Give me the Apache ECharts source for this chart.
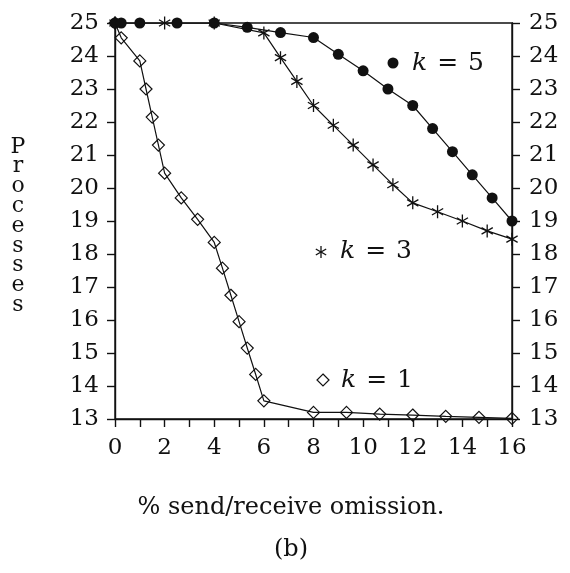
<!DOCTYPE html>
<html>
<head>
<meta charset="utf-8">
<script src="https://cdn.jsdelivr.net/npm/echarts@6/dist/echarts.min.js"></script>
<style>html,body{margin:0;padding:0;background:#fff}#c{width:570px;height:573px}</style>
</head>
<body>
<div id="c"></div>
<script>
// ---- data ----
const k5X = [0, 0.25, 1, 2.5, 4, 5.33, 6.67, 8, 9, 10, 11, 12, 12.8, 13.6, 14.4, 15.2, 16];
const k5Y = [25, 25, 25, 25, 25, 24.87, 24.71, 24.56, 24.05, 23.55, 23.0, 22.5, 21.8, 21.1, 20.4, 19.7, 19.0];
const k3X = [0, 2, 4, 6, 6.67, 7.33, 8, 8.8, 9.6, 10.4, 11.2, 12, 13, 14, 15, 16];
const k3Y = [25, 25, 25, 24.7, 23.95, 23.23, 22.5, 21.9, 21.3, 20.7, 20.1, 19.55, 19.28, 19.0, 18.7, 18.45];
const k1X = [0, 0.25, 1, 1.25, 1.5, 1.75, 2, 2.67, 3.33, 4, 4.33, 4.67, 5, 5.33, 5.67, 6, 8, 9.33, 10.67, 12, 13.33, 14.67, 16];
const k1Y = [25, 24.55, 23.85, 23.0, 22.15, 21.3, 20.45, 19.7, 19.05, 18.35, 17.57, 16.75, 15.95, 15.15, 14.35, 13.55, 13.2, 13.2, 13.15, 13.12, 13.08, 13.05, 13.02];
const xTickLabels = ['0', '2', '4', '6', '8', '10', '12', '14', '16'];
const yTickLabels = ['13','14','15','16','17','18','19','20','21','22','23','24','25'];
const seriesNames = ['k = 1', 'k = 3', 'k = 5'];
const xTitle = '% send/receive omission.';
const yTitle = 'Processes';
const subTitle = '(b)';

const FONT = 'DejaVu Serif';
const INK = '#111';
const ASTERISK = 'path://M0,-10L0,10M-8.66,-5L8.66,5M-8.66,5L8.66,-5';

function zip(xs, ys) { return xs.map((x, i) => [x, ys[i]]); }

const chart = echarts.init(document.getElementById('c'), null, {renderer: 'canvas'});

const yAxisBase = {
  type: 'value', min: 13, max: 25, interval: 1,
  axisLine: {show: true, lineStyle: {color: INK, width: 1.4}},
  axisTick: {show: true, inside: false, length: 8, lineStyle: {color: INK, width: 1.4}},
  splitLine: {show: false},
  axisLabel: {
    color: INK, fontFamily: FONT, fontSize: 23, margin: 16,
    formatter: v => yTickLabels.includes(String(v)) ? String(v) : ''
  }
};

function keyText(x, y, label) {
  const parts = label.split(' ');
  return {type: 'text', x: x, y: y, style: {
    text: '{i|' + parts[0] + '}{e|' + parts[1] + '}' + parts[2],
    fill: INK, fontFamily: FONT, fontSize: 25, verticalAlign: 'middle',
    rich: {
      i: {fontStyle: 'italic', fontFamily: FONT, fontSize: 25, fill: INK},
      e: {fontFamily: FONT, fontSize: 25, fill: INK, padding: [0, 10, 0, 10]}
    }
  }};
}

const option = {
  animation: false,
  backgroundColor: '#fff',
  grid: {left: 115, right: 58, top: 23, bottom: 154, show: true, borderColor: INK, borderWidth: 1.4, backgroundColor: 'transparent'},
  xAxis: {
    type: 'value', min: 0, max: 16, interval: 1,
    axisLine: {show: true, lineStyle: {color: INK, width: 1.4}},
    axisTick: {show: true, inside: false, length: 8, lineStyle: {color: INK, width: 1.4}},
    splitLine: {show: false},
    axisLabel: {
      color: INK, fontFamily: FONT, fontSize: 23, margin: 18,
      formatter: v => xTickLabels.includes(String(v)) ? String(v) : ''
    }
  },
  yAxis: [
    Object.assign({}, yAxisBase, {position: 'left'}),
    Object.assign({}, yAxisBase, {position: 'right', axisLabel: Object.assign({}, yAxisBase.axisLabel, {margin: 17})})
  ],
  series: [
    {
      name: seriesNames[0], type: 'line', data: zip(k1X, k1Y),
      symbol: 'diamond', symbolSize: 12,
      lineStyle: {color: INK, width: 1.2},
      itemStyle: {color: 'rgba(0,0,0,0)', borderColor: INK, borderWidth: 1.2},
      z: 2
    },
    {
      name: seriesNames[1], type: 'line', data: zip(k3X, k3Y),
      symbol: ASTERISK, symbolSize: 13, symbolKeepAspect: true,
      lineStyle: {color: INK, width: 1.2},
      itemStyle: {color: INK, borderColor: INK, borderWidth: 1.3},
      z: 3
    },
    {
      name: seriesNames[2], type: 'line', data: zip(k5X, k5Y),
      symbol: 'circle', symbolSize: 11,
      lineStyle: {color: INK, width: 1.2},
      itemStyle: {color: INK, borderColor: INK, borderWidth: 0},
      z: 4
    }
  ],
  graphic: [
    // x title
    {type: 'text', x: 291, y: 508, style: {text: xTitle, fontFamily: FONT, fontSize: 24, fill: INK, align: 'center', verticalAlign: 'middle'}},
    // y title, stacked letters
    {type: 'text', x: 18, y: 226, style: {
      text: yTitle.split('').join('\n'), fontFamily: FONT, fontSize: 22, fill: INK,
      lineHeight: 19.8, align: 'center', verticalAlign: 'middle'
    }},
    // subtitle
    {type: 'text', x: 291, y: 550, style: {text: subTitle, fontFamily: FONT, fontSize: 24, fill: INK, align: 'center', verticalAlign: 'middle'}},
    // key: k = 5
    {type: 'circle', shape: {cx: 393, cy: 63, r: 5.5}, style: {fill: INK}},
    keyText(412, 63, seriesNames[2]),
    // key: k = 3
    {type: 'line', shape: {x1: 321, y1: 246, x2: 321, y2: 258}, style: {stroke: INK, lineWidth: 1.3}},
    {type: 'line', shape: {x1: 315.8, y1: 249, x2: 326.2, y2: 255}, style: {stroke: INK, lineWidth: 1.3}},
    {type: 'line', shape: {x1: 315.8, y1: 255, x2: 326.2, y2: 249}, style: {stroke: INK, lineWidth: 1.3}},
    keyText(340, 251, seriesNames[1]),
    // key: k = 1
    {type: 'polygon', shape: {points: [[323, 374], [329, 380], [323, 386], [317, 380]]}, style: {stroke: INK, lineWidth: 1.2, fill: 'none'}},
    keyText(341, 380, seriesNames[0])
  ]
};
chart.setOption(option);
</script>
</body>
</html>
